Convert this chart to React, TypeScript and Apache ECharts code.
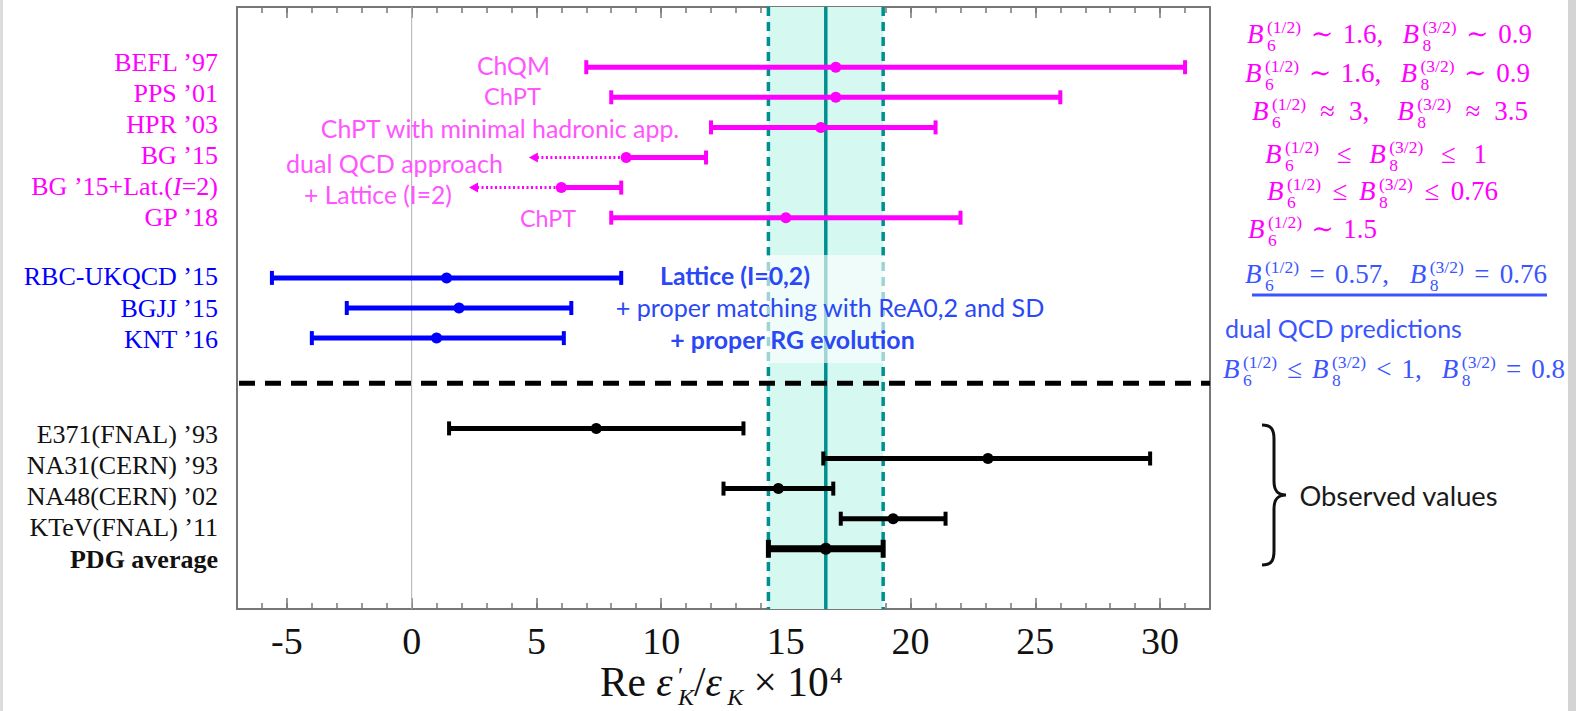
import React, { useEffect, useRef } from "react";
import * as echarts from "echarts";

// ---------------- data ----------------
const labels = [
  "BEFL ’97",
  "PPS ’01",
  "HPR ’03",
  "BG ’15",
  "BG ’15+Lat.({i|I}=2)",
  "GP ’18",
  "RBC-UKQCD ’15",
  "BGJJ ’15",
  "KNT ’16",
  "E371(FNAL) ’93",
  "NA31(CERN) ’93",
  "NA48(CERN) ’02",
  "KTeV(FNAL) ’11",
  "PDG average",
];
const groups = [
  "theory", "theory", "theory", "theory", "theory", "theory",
  "lattice", "lattice", "lattice",
  "exp", "exp", "exp", "exp", "exp",
];
const rows = [2, 3, 4, 5, 6, 7, 9, 10, 11, 14, 15, 16, 17, 18];
const centers = [17.0, 17.0, 16.4, 8.6, 6.0, 15.0, 1.4, 1.9, 1.0, 7.4, 23.1, 14.7, 19.3, 16.6];
const lows = [7.0, 8.0, 12.0, 4.7, 2.3, 8.0, -5.6, -2.6, -4.0, 1.5, 16.5, 12.5, 17.2, 14.3];
const highs = [31.0, 26.0, 21.0, 11.8, 8.4, 22.0, 8.4, 6.4, 6.1, 13.3, 29.6, 16.9, 21.4, 18.9];
const upperBoundOnly = [false, false, false, true, true, false, false, false, false, false, false, false, false, false];
const xTickValues = [-5, 0, 5, 10, 15, 20, 25, 30];
const xMin = -7;
const xMax = 32;
const rowMax = 20;
const separatorRow = 12.5;
const averageIndex = 13;

const theoryNotes = [
  "ChQM",
  "ChPT",
  "ChPT with minimal hadronic app.",
  "dual QCD approach",
  "+ Lattice (I=2)",
  "ChPT",
];
const latticeNotes = ["Lattice (I=0,2)", "+ proper matching with ReA0,2 and SD", "+ proper RG evolution"];
const formulas = [
  "B_6^{(1/2)} ∼ 1.6,  B_8^{(3/2)} ∼ 0.9",
  "B_6^{(1/2)} ∼ 1.6,  B_8^{(3/2)} ∼ 0.9",
  "B_6^{(1/2)} ≈ 3,  B_8^{(3/2)} ≈ 3.5",
  "B_6^{(1/2)} ≤ B_8^{(3/2)} ≤ 1",
  "B_6^{(1/2)} ≤ B_8^{(3/2)} ≤ 0.76",
  "B_6^{(1/2)} ∼ 1.5",
  "B_6^{(1/2)} = 0.57,  B_8^{(3/2)} = 0.76",
  "B_6^{(1/2)} ≤ B_8^{(3/2)} < 1,  B_8^{(3/2)} = 0.8",
];
const dualText = "dual QCD predictions";
const observedText = "Observed values";

// ---------------- styles ----------------
const SERIF = '"Liberation Serif", "DejaVu Serif", serif';
const SANS = 'Lato, "Open Sans", sans-serif';
const BAR_COLORS: Record<string, string> = { theory: "#ff00ff", lattice: "#0000ff", exp: "#000000" };
const LABEL_COLORS: Record<string, string> = { theory: "#ff00ff", lattice: "#0000ff", exp: "#111111" };
const LABEL_OFF: Record<string, number> = { theory: -5, lattice: -1, exp: 6 };
const PINK_NOTE = "#ff55ff";
const BLUE_NOTE = "#2a48f5";
const BLUE_MATH = "#3a55ff";
const TEAL = "#008f8f";
const BAND = "#d5f8f0";
const FRAME = "#777777";

const BRACE_D =
  "M0,0 C9,0 12,4 12,14 L12,56 C12,65 15,70 24,70 C15,70 12,75 12,84 L12,126 C12,136 9,140 0,140";
echarts.graphic.registerShape("brace", echarts.graphic.extendPath(BRACE_D, {}) as any);

// --------------- text helpers ---------------
let _ctx: CanvasRenderingContext2D | null = null;
function tw(text: string, size: number, italic = false, family = SERIF, weight = "normal") {
  if (!_ctx) _ctx = document.createElement("canvas").getContext("2d");
  if (!_ctx) return text.length * size * 0.5;
  _ctx.font = `${italic ? "italic " : ""}${weight} ${size}px ${family}`;
  return _ctx.measureText(text).width;
}

type Tok = { t?: string; it?: boolean; sub?: string; sup?: string; subIt?: boolean };
function parseFormula(s: string): Tok[] {
  const out: Tok[] = [];
  const re = /B_(\d)\^\{([^}]*)\}/g;
  let last = 0;
  let m: RegExpExecArray | null;
  while ((m = re.exec(s))) {
    if (m.index > last) out.push({ t: s.slice(last, m.index) });
    out.push({ t: "B", it: true, sub: m[1], sup: m[2] });
    last = re.lastIndex;
  }
  if (last < s.length) out.push({ t: s.slice(last) });
  return out;
}

type Piece = {
  text: string;
  dx: number;
  dy: number;
  size: number;
  italic: boolean;
  lineHeight: number;
  stack?: { sup: string; sub: string; subIt: boolean };
};

type MathOpts = { ssr: number; subDrop: number; supRise: number };
const FORMULA_OPTS: MathOpts = { ssr: 0.65, subDrop: 0.3, supRise: 0.38 };
const TITLE_OPTS: MathOpts = { ssr: 0.58, subDrop: 0.22, supRise: 0.3 };

// words are placed one by one; every space gets `pad` extra pixels.
// sub/superscripts of one symbol are drawn as a single two-line text.
function layoutMath(toks: Tok[], fs: number, o: MathOpts, pad: number) {
  const ss = fs * o.ssr;
  const pieces: Piece[] = [];
  let x = 0;
  let spaces = 0;
  for (const tk of toks) {
    if (tk.t) {
      const parts = tk.t.split(/( +)/).filter((s) => s.length > 0);
      for (const part of parts) {
        if (/^ +$/.test(part)) {
          x += tw(part, fs) + pad * part.length;
          spaces += part.length;
        } else {
          pieces.push({ text: part, dx: x, dy: -0.34 * fs, size: fs, italic: !!tk.it, lineHeight: Math.round(fs) });
          x += tw(part, fs, !!tk.it);
        }
      }
    }
    if (tk.sup || tk.sub) {
      const sx = tk.it ? 0.13 * fs : 0.04 * fs;
      const supC = -o.supRise * fs - 0.34 * ss;
      const subC = o.subDrop * fs - 0.34 * ss;
      const L = subC - supC;
      pieces.push({
        text: "",
        dx: x + sx,
        dy: (supC + subC) / 2,
        size: ss,
        italic: false,
        lineHeight: L,
        stack: { sup: tk.sup || " ", sub: tk.sub || " ", subIt: !!tk.subIt },
      });
      const w = Math.max(tk.sup ? tw(tk.sup, ss) : 0, tk.sub ? tw(tk.sub, ss, !!tk.subIt) : 0);
      x += sx + w;
    }
  }
  return { pieces, width: x, spaces };
}

function toElements(pieces: Piece[], x0: number, base: number, color: string) {
  return pieces.map((p) => {
    const common = {
      fill: color,
      fontSize: p.size,
      lineHeight: p.lineHeight,
      fontFamily: SERIF,
      fontStyle: p.italic ? "italic" : "normal",
      align: "left",
      verticalAlign: "middle",
      textAlign: "left",
      textVerticalAlign: "middle",
    };
    if (p.stack) {
      const st = (italic: boolean) => ({
        fontSize: p.size,
        lineHeight: p.lineHeight,
        fontFamily: SERIF,
        fontStyle: italic ? "italic" : "normal",
        fill: color,
        color,
      });
      return {
        type: "text",
        z: 6,
        x: x0 + p.dx,
        y: base + p.dy,
        style: {
          ...common,
          text: `{a|${p.stack.sup}}\n{b|${p.stack.sub}}`,
          rich: { a: st(false), b: st(p.stack.subIt) },
        },
      };
    }
    return { type: "text", z: 6, x: x0 + p.dx, y: base + p.dy, style: { ...common, text: p.text } };
  });
}

// fixed font size; the width is matched by widening the spaces
function formulaElements(toks: Tok[], x0: number, x1: number, base: number, fs: number, color: string, o: MathOpts) {
  const probe = layoutMath(toks, fs, o, 0);
  let pad = probe.spaces > 0 ? (x1 - x0 - probe.width) / probe.spaces : 0;
  pad = Math.max(-2, Math.min(14, pad));
  const lay = layoutMath(toks, fs, o, pad);
  const left = (x0 + x1) / 2 - lay.width / 2;
  return toElements(lay.pieces, left, base, color);
}

// font size fitted to the width
function fittedMath(toks: Tok[], x0: number, x1: number, base: number, fs0: number, color: string, o: MathOpts) {
  const probe = layoutMath(toks, fs0, o, 0);
  let fs = fs0 * ((x1 - x0) / probe.width);
  fs = Math.max(fs0 * 0.85, Math.min(fs0 * 1.15, fs));
  return toElements(layoutMath(toks, fs, o, 0).pieces, x0, base, color);
}

function fitText(text: string, x0: number, x1: number, y: number, color: string, bold = false) {
  const w1 = tw(text, 100, false, SANS, bold ? "bold" : "normal");
  const fs = (100 * (x1 - x0)) / w1;
  return {
    type: "text",
    z: 6,
    x: (x0 + x1) / 2,
    y,
    style: {
      text,
      fill: color,
      fontSize: fs,
      fontFamily: SANS,
      fontWeight: bold ? "bold" : "normal",
      align: "center",
      verticalAlign: "middle",
      textAlign: "center",
      textVerticalAlign: "middle",
    },
  };
}

// --------------- component ---------------
export default function App() {
  const ref = useRef<HTMLDivElement>(null);

  useEffect(() => {
    if (!ref.current) return;
    const chart = echarts.init(ref.current, null, { renderer: "svg" });

    const barData = labels.map((_, i) => [centers[i], lows[i], highs[i], rows[i], i]);

    const renderBars = (params: any, api: any) => {
      const i = api.value(4) as number;
      const row = api.value(3) as number;
      const c = api.coord([api.value(0), row]);
      const lo = api.coord([api.value(1), row]);
      const hi = api.coord([api.value(2), row]);
      const g = groups[i];
      const col = BAR_COLORS[g];
      const isAvg = i === averageIndex;
      const lw = isAvg ? 7 : 5;
      const capH = isAvg ? 9 : 7;
      const capW = isAvg ? 5 : 4;
      const y = c[1];
      const bound = upperBoundOnly[i];
      const cap = (x: number) => ({
        type: "line",
        shape: { x1: x, y1: y - capH, x2: x, y2: y + capH },
        style: { stroke: col, lineWidth: capW },
      });
      const children: any[] = [];
      children.push({
        type: "line",
        shape: { x1: bound ? c[0] : lo[0], y1: y, x2: hi[0], y2: y },
        style: { stroke: col, lineWidth: lw },
      });
      if (bound) {
        children.push({
          type: "line",
          shape: { x1: lo[0] + 8, y1: y, x2: c[0], y2: y },
          style: { stroke: col, lineWidth: 3, lineDash: [2, 2.5] },
        });
        children.push({
          type: "polygon",
          shape: { points: [[lo[0], y], [lo[0] + 9, y - 5], [lo[0] + 9, y + 5]] },
          style: { fill: col },
        });
      } else {
        children.push(cap(lo[0]));
      }
      children.push(cap(hi[0]));
      children.push({ type: "circle", shape: { cx: c[0], cy: y, r: isAvg ? 6 : 5.5 }, style: { fill: col } });

      const first = groups.indexOf(g);
      const y0 = api.coord([0, rows[first]])[1];
      const ly = y0 + LABEL_OFF[g] + (y - y0) * 1.035;
      children.push({
        type: "text",
        x: params.coordSys.x - 19,
        y: ly,
        style: {
          text: labels[i],
          fill: LABEL_COLORS[g],
          fontSize: 26,
          fontFamily: SERIF,
          fontWeight: isAvg ? "bold" : "normal",
          align: "right",
          verticalAlign: "middle",
          rich: {
            i: { fontStyle: "italic", fontSize: 26, fontFamily: SERIF, fill: LABEL_COLORS[g], color: LABEL_COLORS[g] },
          },
        },
      });
      return { type: "group", children };
    };

    const renderBand = (params: any, api: any) => {
      const cs = params.coordSys;
      const lo = api.coord([api.value(1), 0])[0];
      const hi = api.coord([api.value(2), 0])[0];
      const c = api.coord([api.value(0), 0])[0];
      return {
        type: "group",
        children: [
          { type: "rect", shape: { x: lo, y: cs.y, width: hi - lo, height: cs.height }, style: { fill: BAND } },
          {
            type: "line",
            shape: { x1: lo, y1: cs.y, x2: lo, y2: cs.y + cs.height },
            style: { stroke: TEAL, lineWidth: 3.5, lineDash: [9, 6] },
          },
          {
            type: "line",
            shape: { x1: hi, y1: cs.y, x2: hi, y2: cs.y + cs.height },
            style: { stroke: TEAL, lineWidth: 3.5, lineDash: [9, 6] },
          },
          {
            type: "line",
            shape: { x1: c, y1: cs.y, x2: c, y2: cs.y + cs.height },
            style: { stroke: TEAL, lineWidth: 3.5 },
          },
        ],
      };
    };

    const renderZero = (params: any, api: any) => {
      const cs = params.coordSys;
      const x = api.coord([api.value(0), 0])[0];
      return {
        type: "line",
        shape: { x1: x, y1: cs.y, x2: x, y2: cs.y + cs.height },
        style: { stroke: "#b0b0b0", lineWidth: 1 },
      };
    };

    const renderSep = (params: any, api: any) => {
      const cs = params.coordSys;
      const y = api.coord([0, api.value(0)])[1];
      return {
        type: "line",
        shape: { x1: cs.x + 2, y1: y, x2: cs.x + cs.width, y2: y },
        style: { stroke: "#000", lineWidth: 5, lineDash: [16, 10] },
      };
    };

    const baseX = {
      type: "value",
      gridIndex: 0,
      min: xMin,
      max: xMax,
      splitLine: { show: false },
    };
    const minorAxis = (position: string) => ({
      ...baseX,
      position,
      interval: 1,
      axisLine: { show: true, onZero: false, lineStyle: { color: FRAME, width: 2 } },
      axisTick: { show: true, inside: true, length: 6, lineStyle: { color: FRAME, width: 1.5 } },
      axisLabel: { show: false },
    });
    const majorAxis = (position: string, withLabels: boolean) => ({
      ...baseX,
      position,
      axisLine: { show: false, onZero: false },
      axisTick: { show: true, inside: true, length: 11, customValues: xTickValues, lineStyle: { color: FRAME, width: 1.5 } },
      axisLabel: withLabels
        ? { show: true, customValues: xTickValues, fontSize: 38, lineHeight: 26, fontFamily: SERIF, color: "#111", margin: 19 }
        : { show: false },
    });
    const yAx = (position: string) => ({
      type: "value",
      min: 0,
      max: rowMax,
      inverse: true,
      position,
      axisLine: { show: true, onZero: false, lineStyle: { color: FRAME, width: 2 } },
      axisTick: { show: false },
      axisLabel: { show: false },
      splitLine: { show: false },
    });

    // ---- graphics ----
    const graphics: any[] = [];
    graphics.push({ type: "rect", z: 0, shape: { x: 0, y: 0, width: 3, height: 711 }, style: { fill: "#dcdcdc" } });
    graphics.push({ type: "rect", z: 0, shape: { x: 1568, y: 0, width: 8, height: 711 }, style: { fill: "#d4d4d4" } });
    // translucent box behind the lattice notes
    graphics.push({
      type: "rect",
      z: 2,
      shape: { x: 626, y: 255, width: 440, height: 108 },
      style: { fill: "rgba(255,255,255,0.62)" },
    });

    const theoryPos = [
      [477, 550, 65],
      [484, 541, 96],
      [320, 680, 128],
      [286, 503, 163],
      [304, 452, 194],
      [520, 576, 218],
    ];
    theoryNotes.forEach((t, k) => {
      const p = theoryPos[k];
      graphics.push(fitText(t, p[0], p[1], p[2], PINK_NOTE));
    });
    const latticePos = [
      [660, 810, 275, 1],
      [615, 1045, 307, 0],
      [670, 915, 339, 1],
    ];
    latticeNotes.forEach((t, k) => {
      const p = latticePos[k];
      graphics.push(fitText(t, p[0], p[1], p[2], BLUE_NOTE, p[3] === 1));
    });

    const formulaPos = [
      [1247, 1532, 43],
      [1245, 1530, 82],
      [1252, 1528, 120],
      [1265, 1487, 163],
      [1267, 1498, 200],
      [1248, 1377, 238],
      [1245, 1547, 283],
      [1223, 1565, 378],
    ];
    formulas.forEach((f, k) => {
      const p = formulaPos[k];
      const color = k < 6 ? "#ff00ff" : BLUE_MATH;
      graphics.push(...formulaElements(parseFormula(f), p[0], p[1], p[2], 27, color, FORMULA_OPTS));
    });
    graphics.push({
      type: "line",
      z: 6,
      shape: { x1: 1252, y1: 295, x2: 1547, y2: 295 },
      style: { stroke: BLUE_MATH, lineWidth: 3 },
    });
    graphics.push(fitText(dualText, 1225, 1462, 328, BLUE_MATH));

    // brace + observed values
    graphics.push({
      type: "brace",
      z: 6,
      x: 1262,
      y: 425,
      style: { stroke: "#111", fill: "none", lineWidth: 3 },
    });
    graphics.push(fitText(observedText, 1299, 1498, 495, "#1a1a1a"));

    // axis title: Re ε'_K / ε_K × 10^4
    const titleToks: Tok[] = [
      { t: "Re" },
      { t: " " },
      { t: "ε", it: true, sup: "′", sub: "K", subIt: true },
      { t: "/" },
      { t: "ε", it: true, sub: "K", subIt: true },
      { t: " × 10", sup: "4" },
    ];
    graphics.push(...fittedMath(titleToks, 600, 877, 696, 36, "#111", TITLE_OPTS));

    const option: any = {
      animation: false,
      backgroundColor: "#ffffff",
      grid: { left: 237, right: 366, top: 7, bottom: 102, show: false },
      xAxis: [minorAxis("bottom"), majorAxis("bottom", true), minorAxis("top"), majorAxis("top", false)],
      yAxis: [yAx("left"), yAx("right")],
      series: [
        {
          type: "custom",
          name: "band",
          xAxisIndex: 0,
          yAxisIndex: 0,
          z: 1,
          clip: false,
          silent: true,
          data: [[centers[averageIndex], lows[averageIndex], highs[averageIndex]]],
          encode: { x: [0, 1, 2] },
          renderItem: renderBand,
        },
        {
          type: "custom",
          name: "zero",
          xAxisIndex: 0,
          yAxisIndex: 0,
          z: 1,
          silent: true,
          data: [[0]],
          encode: { x: 0 },
          renderItem: renderZero,
        },
        {
          type: "custom",
          name: "separator",
          xAxisIndex: 0,
          yAxisIndex: 0,
          z: 3,
          silent: true,
          data: [[separatorRow]],
          encode: { y: 0 },
          renderItem: renderSep,
        },
        {
          type: "custom",
          name: "measurements",
          xAxisIndex: 0,
          yAxisIndex: 0,
          z: 4,
          clip: false,
          data: barData,
          encode: { x: [0, 1, 2], y: 3 },
          renderItem: renderBars,
        },
      ],
      graphic: { elements: graphics },
    };

    chart.setOption(option);
    return () => chart.dispose();
  }, []);

  return (
    <div
      ref={ref}
      style={{ position: "absolute", left: 0, top: 0, width: 1576, height: 711, background: "#fff" }}
    />
  );
}
